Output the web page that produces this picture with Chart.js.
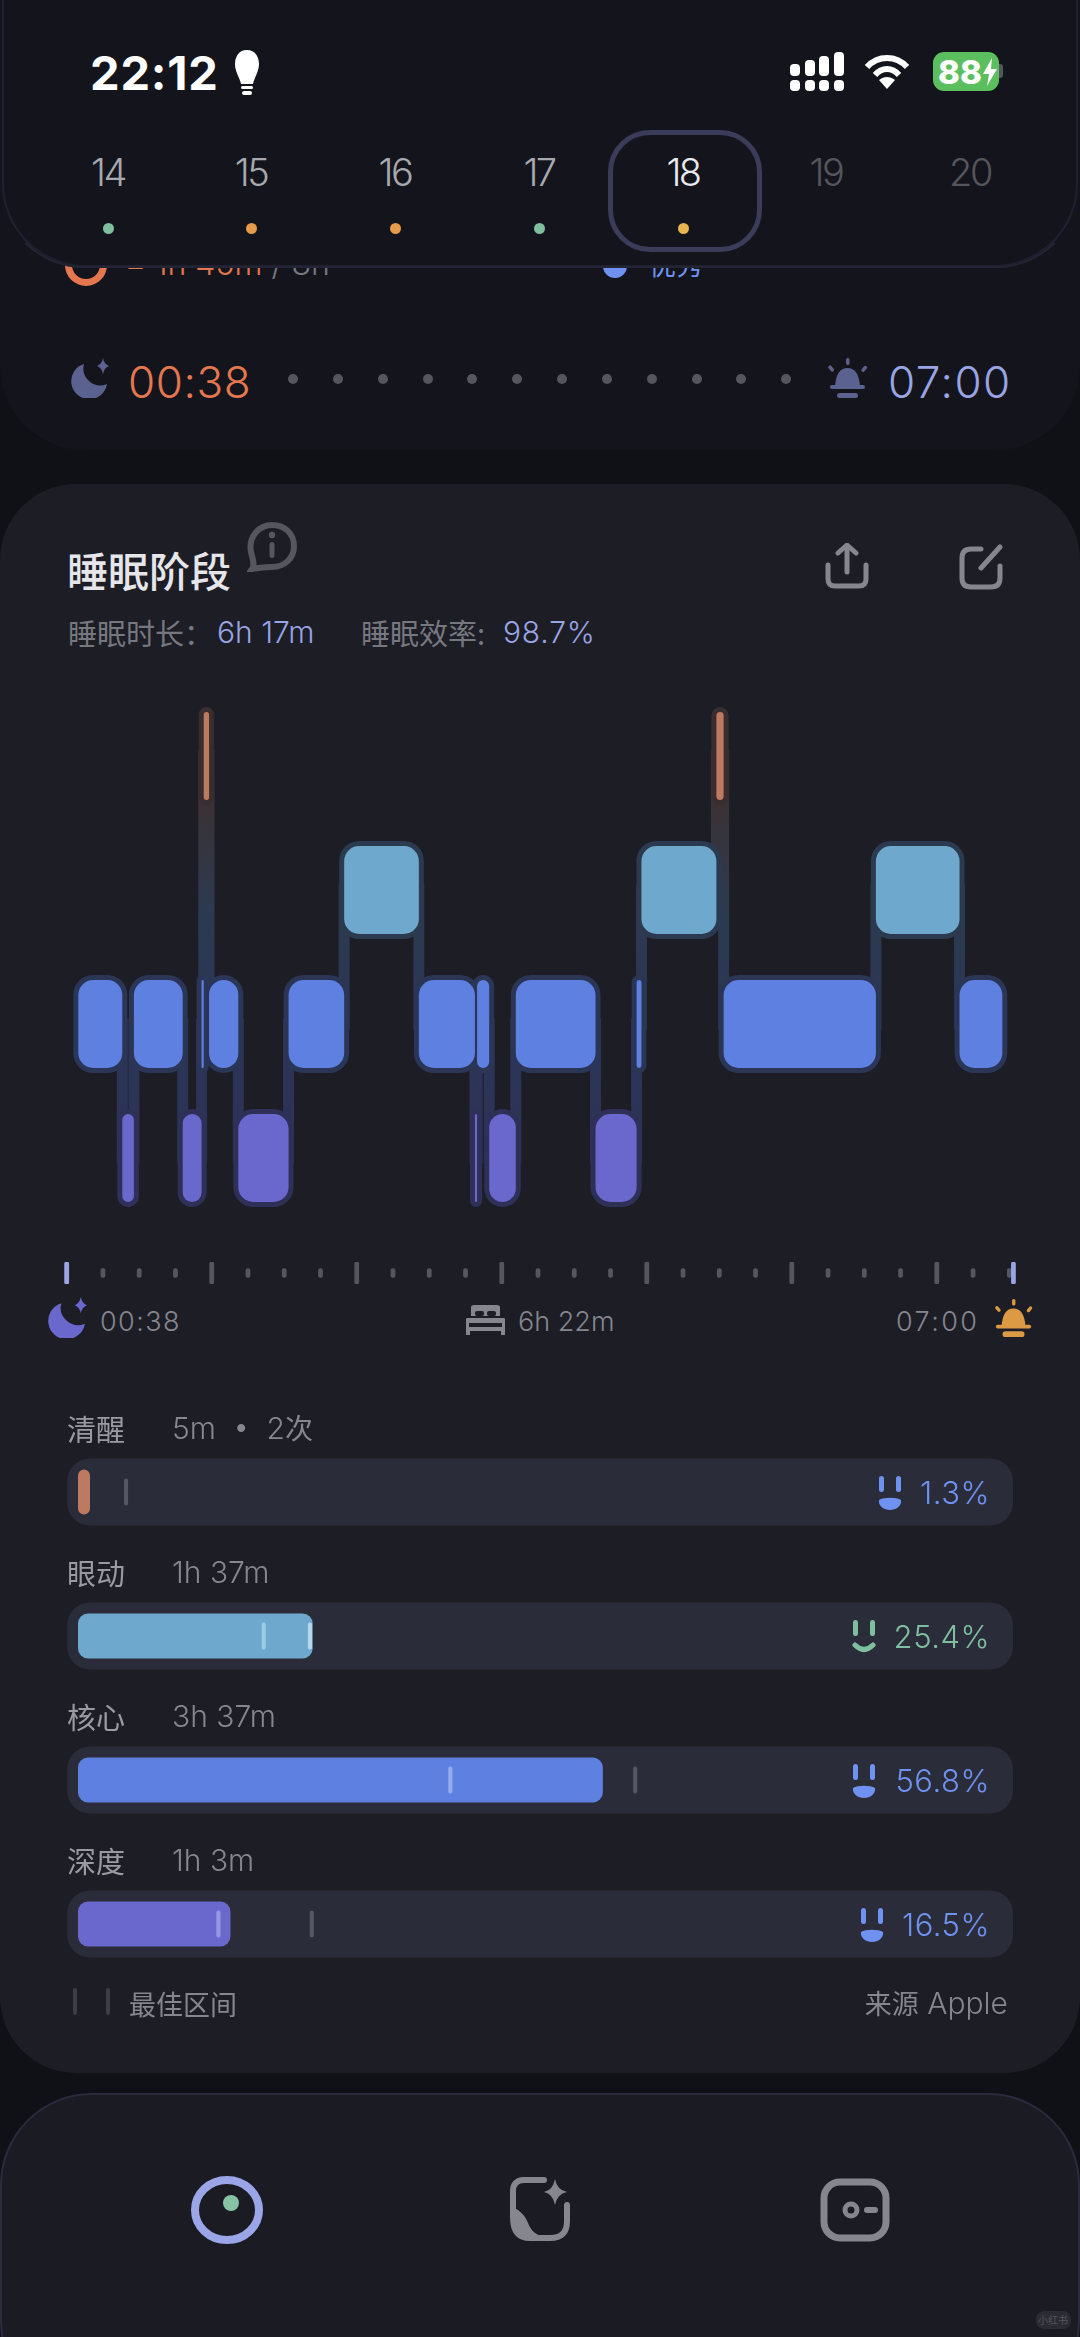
<!DOCTYPE html>
<html lang="zh">
<head>
<meta charset="utf-8">
<script src="https://cdn.jsdelivr.net/npm/chart.js@4/dist/chart.umd.min.js"></script>
<style>
html, body { margin: 0; padding: 0; background: #101116; }
#page { position: relative; width: 1080px; height: 2337px; overflow: hidden; background: #101116;
  font-family: Inter, "Noto Sans CJK SC", sans-serif; font-weight: 300; }
#page > * { position: absolute; }
.t { white-space: nowrap; transform: translateY(-50%); line-height: 1; }
.r { transform: translate(-100%, -50%); }
.c { transform: translate(-50%, -50%); }
.cjk { font-family: "Noto Sans CJK SC", sans-serif; font-weight: 400; }
.card { box-sizing: border-box; }
canvas { display: block; }
</style>
</head>
<body>
<div id="page">

  <!-- card behind the date strip -->
  <div class="card" style="left:0;top:-60px;width:1080px;height:510px;background:#14151c;border-radius:0 0 84px 84px"></div>
  <svg style="left:65px;top:240px" width="44" height="48" viewBox="0 0 44 48"><circle cx="21" cy="25" r="17.500" fill="none" stroke="#e4774e" stroke-width="7"/></svg>
  <div class="t" style="left:125px;top:264px;font-size:32px;color:#e4774e"><span style="position:relative;top:5px">−</span> 1h 45m <span style="color:#77787f">/ 8h</span></div>
  <svg style="left:603px;top:250px" width="24" height="30" viewBox="0 0 24 30"><circle cx="12" cy="16" r="12" fill="#6f92f0"/></svg>
  <div class="t cjk" style="left:649px;top:263px;font-size:27px;color:#6f92f0">优秀</div>

  <svg style="left:71px;top:358px" width="40" height="40" viewBox="0 0 40 40"><path d="M15 6A18 18 0 1 0 38 26A17 17 0 0 1 15 6Z" fill="#5c628f" transform="translate(-2 0)"/><path d="M32 0Q33 6 38 8Q33 10 32 16Q31 10 26 8Q31 6 32 0Z" fill="#5c628f"/></svg>
  <div class="t" style="left:128px;top:382px;font-size:44px;letter-spacing:0.6px;color:#e4774e">00:38</div>
  <svg id="night-dots" style="left:285px;top:370px" width="510" height="18"></svg>
  <svg style="left:826px;top:358px" width="43" height="40" viewBox="0 0 43 40"><g fill="#5c628f"><path d="M21.500 10C14 10 10 16 9 28H34C33 16 29 10 21.500 10Z"/><rect x="4" y="27" width="35" height="4" rx="2"/><rect x="11" y="35" width="21" height="5" rx="2.500"/><rect x="20" y="0" width="3.500" height="7" rx="1.700"/><rect x="3" y="7" width="3.500" height="7" rx="1.700" transform="rotate(-40 5 10)"/><rect x="37" y="7" width="3.500" height="7" rx="1.700" transform="rotate(40 38 10)"/></g></svg>
  <div class="t" style="left:888px;top:382px;font-size:44px;letter-spacing:1.5px;color:#98a4e4">07:00</div>

  <!-- date strip -->
  <div class="card" style="left:0;top:-60px;width:1080px;height:328px;background:#14151c;border:2px solid #24253400;border-bottom:2px solid #242534;border-radius:0 0 84px 84px;box-shadow:inset -2px -1px 0 #1f2030, inset 2px -1px 0 #1f2030"></div>
  <div class="t" style="left:90px;top:72px;font-size:47px;font-weight:700;letter-spacing:0.8px;color:#fff">22:12</div>
  <svg style="left:233px;top:50px" width="28" height="46" viewBox="0 0 28 46"><path d="M14 0C23 0 26 8 26 14C26 22 21 28 20 34H8C7 28 2 22 2 14C2 8 5 0 14 0Z" fill="#fff"/><rect x="8" y="36" width="12" height="3" rx="1.500" fill="#fff"/><rect x="9" y="41" width="10" height="4" rx="2" fill="#fff"/></svg>
  <svg style="left:790px;top:52px" width="54" height="40" viewBox="0 0 54 40" fill="#fff"><rect x="0" y="12" width="10" height="12" rx="4"/><rect x="15" y="8" width="10" height="16" rx="4"/><rect x="29" y="4" width="10" height="20" rx="4"/><rect x="44" y="0" width="10" height="24" rx="4"/><rect x="0" y="28" width="10" height="11" rx="4"/><rect x="15" y="28" width="10" height="11" rx="4"/><rect x="29" y="28" width="10" height="11" rx="4"/><rect x="44" y="28" width="10" height="11" rx="4"/></svg>
  <svg style="left:864px;top:54px" width="46" height="36" viewBox="0 0 46 36" fill="none" stroke="#fff" stroke-width="6"><path d="M3 13C14 1 32 1 43 13"/><path d="M11 21C18 13 28 13 35 21"/><path d="M23 35L15 26C20 22 26 22 31 26Z" fill="#fff" stroke="none"/></svg>
  <div style="left:933px;top:52px;width:66px;height:39px;background:#5cbf5f;border-radius:11px"></div>
  <div style="left:999px;top:64px;width:4px;height:14px;background:#55565c;border-radius:0 3px 3px 0"></div>
  <div class="t" style="left:938px;top:72px;font-size:33px;font-weight:800;color:#fff">88</div>
  <svg style="left:983px;top:58px" width="14" height="28" viewBox="0 0 14 28"><path d="M9 0L0 16H6L4 28L14 11H8Z" fill="#fff"/></svg>
  <div id="date-strip"></div>
  <div class="card" style="left:608px;top:130px;width:154px;height:122px;border:5px solid #3a3c5a;border-radius:42px"></div>

  <!-- sleep stages card -->
  <div class="card" style="left:0;top:484px;width:1080px;height:1589px;background:#1c1d25;border-radius:76px"></div>
  <div class="t cjk" style="left:67px;top:569px;font-size:41px;font-weight:500;color:#e6e6ea">睡眠阶段</div>
  <svg style="left:247px;top:522px" width="50" height="50" viewBox="0 0 50 50"><path d="M25 3C37 3 47 11 47 24C47 37 37 45 25 45C20 45 14 45 5 47C8 43 6 38 4 30C1 15 12 3 25 3Z" fill="none" stroke="#55565e" stroke-width="6"/><rect x="22.500" y="20" width="5" height="16" rx="2.500" fill="#55565e"/><circle cx="25" cy="13" r="3.200" fill="#55565e"/></svg>
  <svg style="left:825px;top:543px" width="44" height="46" viewBox="0 0 44 46" fill="none" stroke="#85868e" stroke-width="5" stroke-linecap="round" stroke-linejoin="round"><path d="M13 10L22 2L31 10"/><path d="M22 3V29"/><path d="M3 22V36C3 41 6 43 10 43H34C38 43 41 41 41 36V22"/></svg>
  <svg style="left:959px;top:544px" width="44" height="46" viewBox="0 0 44 46" fill="none" stroke="#85868e" stroke-width="5" stroke-linecap="round" stroke-linejoin="round"><path d="M22 5H12C6 5 3 8 3 14V34C3 40 6 43 12 43H32C38 43 41 40 41 34V22"/><path d="M22 24L41 3"/></svg>
  <div class="t cjk" style="left:68px;top:632px;font-size:29px;color:#77787f">睡眠时长：</div>
  <div class="t" style="left:217px;top:632px;font-size:30px;color:#98a4e4">6h 17m</div>
  <div class="t cjk" style="left:361px;top:632px;font-size:29px;color:#77787f">睡眠效率:</div>
  <div class="t" style="left:503px;top:632px;font-size:30px;letter-spacing:0.8px;color:#98a4e4">98.7%</div>

  <canvas id="stage-chart" style="left:0;top:689px" width="1080" height="536"></canvas>
  <canvas id="ruler-chart" style="left:0;top:1262px" width="1080" height="22"></canvas>

  <svg style="left:48px;top:1297px" width="41" height="41" viewBox="0 0 40 40"><path d="M15 6A18 18 0 1 0 38 26A17 17 0 0 1 15 6Z" fill="#6a68cc" transform="translate(-2 0)"/><path d="M32 0Q33 6 38 8Q33 10 32 16Q31 10 26 8Q31 6 32 0Z" fill="#6a68cc"/></svg>
  <div class="t" style="left:100px;top:1321px;font-size:27px;letter-spacing:1.4px;color:#85868e">00:38</div>
  <svg style="left:466px;top:1305px" width="39" height="30" viewBox="0 0 39 30" fill="#85868e"><path d="M5 2C5 1 6 0 8 0H31C33 0 34 1 34 2V11H5Z"/><path d="M1 13H38C39 13 39 14 39 15V30H35V26H4V30H0V15C0 14 0 13 1 13ZM3 18V22H36V18Z" fill-rule="evenodd"/><rect x="9" y="6" width="9" height="5" rx="2" fill="#1c1d25"/><rect x="21" y="6" width="9" height="5" rx="2" fill="#1c1d25"/></svg>
  <div class="t" style="left:518px;top:1321px;font-size:27px;color:#85868e">6h 22m</div>
  <div class="t" style="left:896px;top:1321px;font-size:27px;letter-spacing:2.4px;color:#85868e">07:00</div>
  <svg style="left:993px;top:1298px" width="41" height="40" viewBox="0 0 43 40"><g fill="#dd9a45"><path d="M21.500 10C14 10 10 16 9 28H34C33 16 29 10 21.500 10Z"/><rect x="3" y="27" width="37" height="4" rx="2"/><rect x="10" y="34" width="23" height="6" rx="3"/><rect x="20" y="0" width="3.500" height="7" rx="1.700"/><rect x="3" y="7" width="3.500" height="7" rx="1.700" transform="rotate(-40 5 10)"/><rect x="37" y="7" width="3.500" height="7" rx="1.700" transform="rotate(40 38 10)"/></g></svg>

  <canvas id="share-chart" style="left:0;top:1420px" width="1080" height="576"></canvas>
  <div id="share-text"></div>

  <div style="left:73px;top:1988px;width:4px;height:27px;background:#3c3d46;border-radius:2px"></div>
  <div style="left:106px;top:1988px;width:4px;height:27px;background:#3c3d46;border-radius:2px"></div>
  <div class="t cjk" style="left:129px;top:2003px;font-size:27px;color:#85868e">最佳区间</div>
  <div class="t r" style="left:1008px;top:2003px;color:#85868e;font-size:30px"><span class="cjk" style="font-size:27px">来源</span> Apple</div>

  <!-- bottom navigation -->
  <div class="card" style="left:0;top:2093px;width:1080px;height:320px;background:#1a1b23;border:2px solid #2a2b3d;border-radius:92px"></div>
  <svg style="left:189px;top:2174px" width="76" height="72" viewBox="0 0 76 72"><ellipse cx="38" cy="36" rx="32" ry="30" fill="none" stroke="#9aa6e8" stroke-width="8"/><circle cx="42" cy="29" r="8" fill="#86c3a5"/></svg>
  <svg style="left:510px;top:2177px" width="62" height="64" viewBox="0 0 62 64" fill="none" stroke="#85868e" stroke-width="6" stroke-linecap="round"><path d="M34 3H14C6 3 3 8 3 14V40C3 54 8 61 20 61H40C51 61 57 56 57 44V28"/><path d="M3 30C10 34 15 38 18 46C21 54 26 58 36 61H20C8 61 3 54 3 40Z" fill="#85868e" stroke="none"/><path d="M45 2Q47 13 57 15Q47 17 45 28Q43 17 34 15Q43 13 45 2Z" fill="#85868e" stroke="none"/></svg>
  <svg style="left:820px;top:2178px" width="70" height="64" viewBox="0 0 70 64" fill="none" stroke="#85868e" stroke-width="7"><rect x="4" y="4" width="62" height="56" rx="16"/><circle cx="31" cy="32" r="6" stroke-width="5"/><rect x="44" y="29" width="14" height="6" rx="3" fill="#85868e" stroke="none"/></svg>
  <div style="left:1036px;top:2311px;width:35px;height:18px;background:#2a2b33;border-radius:8px"></div>
  <div class="t c cjk" style="left:1053px;top:2320px;font-size:10px;color:#55565e">小红书</div>
</div>

<script>
'use strict';

// date strip
const dates = ['14', '15', '16', '17', '18', '19', '20'];
const dateColors = ['#a8a9ae', '#a8a9ae', '#a8a9ae', '#a8a9ae', '#e8e8ee', '#55565c', '#55565c'];
const dateDots = ['#7fbf9f', '#e59a4c', '#e59a4c', '#7fbf9f', '#e6b54e', null, null];
const dateCenters = [108, 251, 395, 539, 683, 826, 970];

// hypnogram: stage of each segment and the minute it ends, counted from 00:38
const stageNames = ['清醒', '眼动', '核心', '深度'];
const segmentStages = ['核心', '深度', '核心', '深度', '核心', '清醒', '核心', '深度', '核心', '眼动', '核心',
    '深度', '核心', '深度', '核心', '深度', '核心', '眼动', '清醒', '核心', '眼动', '核心'];
const segmentEnds = [18.2, 23, 43.2, 51, 51.9, 54.1, 66.2, 87, 110, 140.9, 164.1,
    165, 170, 181, 214, 231, 233, 264, 267, 330, 364.6, 382.3];

// time ruler, minutes from 00:38
const rulerHours = [-4.8, 55.2, 115.2, 175.2, 235.2, 295.2, 355.2];
const rulerQuarters = [10.2, 25.2, 40.2, 70.2, 85.2, 100.2, 130.2, 145.2, 160.2, 190.2, 205.2, 220.2,
    250.2, 265.2, 280.2, 310.2, 325.2, 340.2, 370.2, 385.2];
const rulerEnds = [-4.8, 386.9];

// share of each stage, percent
const sharePercents = [1.3, 25.4, 56.8, 16.5];
const shareLabels = ['5m  •  2次', '1h 37m', '3h 37m', '1h 3m'];
const shareColors = ['#6f92f0', '#7fbf9f', '#6f92f0', '#6f92f0'];
const faceLefts = [878, 852, 852, 860];
const bestStages = ['清醒', '眼动', '眼动', '核心', '核心', '深度', '深度'];
const bestValues = [5.2, 20.1, 25.1, 40.3, 60.3, 15.2, 25.3];
const bestColors = ['#555763', '#9ccbe4', '#b8d8ea', '#93aef0', '#555763', '#9a98e6', '#555763'];

const stageFill = { '清醒': '#bc7a60', '眼动': '#6ea9cd', '核心': '#5e80e0', '深度': '#6a68cc' };
const stageHalo = { '清醒': '#3a2d30', '眼动': '#2c3a50', '核心': '#2b3556', '深度': '#2f3058' };

const PX_PER_MIN = 2.417;
const AXIS_LEFT = 78.3;
const HALO_MIN = 5 / PX_PER_MIN;
const timeMin = -AXIS_LEFT / PX_PER_MIN;
const timeMax = (1080 - AXIS_LEFT) / PX_PER_MIN;

Chart.defaults.animation = false;
Chart.defaults.responsive = false;
Chart.defaults.plugins.legend.display = false;
Chart.defaults.plugins.tooltip.enabled = false;

function segmentData(pad) {
    return segmentStages.map(function (stage, i) {
        const start = i === 0 ? 0 : segmentEnds[i - 1];
        return { x: [start - pad, segmentEnds[i] + pad], y: stage };
    });
}

function connectorPoints() {
    const points = [];
    segmentStages.forEach(function (stage, i) {
        points.push({ x: i === 0 ? 0 : segmentEnds[i - 1], y: stage });
        points.push({ x: segmentEnds[i], y: stage });
    });
    return points;
}

function connectorColor(context) {
    const chart = context.chart;
    if (!chart.chartArea) return '#2b3556';
    const g = chart.ctx.createLinearGradient(0, chart.chartArea.top, 0, chart.chartArea.bottom);
    g.addColorStop(0, '#3c2e31');
    g.addColorStop(0.22, '#3a3236');
    g.addColorStop(0.42, '#2c3a50');
    g.addColorStop(0.65, '#2b3556');
    g.addColorStop(1, '#2f3058');
    return g;
}

new Chart(document.getElementById('stage-chart'), {
    type: 'bar',
    data: {
        labels: stageNames,
        datasets: [{
            type: 'line',
            indexAxis: 'x',
            data: connectorPoints(),
            borderColor: connectorColor,
            borderWidth: 11,
            borderCapStyle: 'butt',
            borderJoinStyle: 'miter',
            pointRadius: 0,
            tension: 0,
            order: 3
        }, {
            data: segmentData(HALO_MIN),
            backgroundColor: segmentStages.map(function (s) { return stageHalo[s]; }),
            grouped: false,
            categoryPercentage: 1,
            barPercentage: 98 / 134,
            borderRadius: 20,
            borderSkipped: false,
            order: 2
        }, {
            data: segmentData(0),
            backgroundColor: segmentStages.map(function (s) { return stageFill[s]; }),
            grouped: false,
            categoryPercentage: 1,
            barPercentage: 88 / 134,
            borderRadius: 15,
            borderSkipped: false,
            order: 1
        }]
    },
    options: {
        indexAxis: 'y',
        layout: { padding: 0 },
        scales: {
            x: { type: 'linear', min: timeMin, max: timeMax, display: false },
            y: { type: 'category', labels: stageNames, offset: true, display: false }
        }
    }
});

function rulerDataset(minutes, range, color, order) {
    return {
        data: minutes.map(function (m) { return { x: m, y: range }; }),
        backgroundColor: color,
        grouped: false,
        categoryPercentage: 1,
        barPercentage: 1,
        maxBarThickness: 5,
        borderRadius: 2.5,
        borderSkipped: false,
        order: order
    };
}

new Chart(document.getElementById('ruler-chart'), {
    type: 'bar',
    data: {
        datasets: [
            rulerDataset(rulerHours, [0, 1], '#55565e', 3),
            rulerDataset(rulerQuarters, [0.3, 0.7], '#55565e', 2),
            rulerDataset(rulerEnds, [0, 1], '#98a4e4', 1)
        ]
    },
    options: {
        layout: { padding: 0 },
        scales: {
            x: { type: 'linear', min: timeMin, max: timeMax, offset: false, display: false },
            y: { type: 'linear', min: 0, max: 1, display: false }
        }
    }
});

// share bars: 9.24px per percent, zero at x=78
const shareMin = -78 / 9.24;
const shareMax = (1080 - 78) / 9.24;

new Chart(document.getElementById('share-chart'), {
    type: 'bar',
    data: {
        labels: stageNames,
        datasets: [{
            data: stageNames.map(function (s) { return { x: [-1.19, 101.2], y: s }; }),
            backgroundColor: '#2a2c3a',
            grouped: false,
            categoryPercentage: 1,
            barPercentage: 67 / 144,
            borderRadius: 23,
            borderSkipped: false,
            order: 3
        }, {
            data: stageNames.map(function (s, i) { return { x: [0, sharePercents[i]], y: s }; }),
            backgroundColor: stageNames.map(function (s) { return stageFill[s]; }),
            grouped: false,
            categoryPercentage: 1,
            barPercentage: 45 / 144,
            borderRadius: 10,
            borderSkipped: false,
            order: 2
        }, {
            data: bestValues.map(function (v, i) { return { x: [v - 0.22, v + 0.22], y: bestStages[i] }; }),
            backgroundColor: bestColors,
            grouped: false,
            categoryPercentage: 1,
            barPercentage: 27 / 144,
            borderRadius: 2,
            borderSkipped: false,
            order: 1
        }]
    },
    options: {
        indexAxis: 'y',
        layout: { padding: 0 },
        scales: {
            x: { type: 'linear', min: shareMin, max: shareMax, display: false },
            y: { type: 'category', labels: stageNames, offset: true, display: false }
        }
    }
});

// text and small glyphs around the charts
const page = document.getElementById('page');

function addHtml(html) {
    page.insertAdjacentHTML('beforeend', html);
}

dates.forEach(function (d, i) {
    addHtml('<div class="t c" style="left:' + dateCenters[i] + 'px;top:172px;font-size:38px;letter-spacing:-2.5px;color:' + dateColors[i] + '">' + d + '</div>');
    if (dateDots[i]) {
        addHtml('<div style="left:' + (dateCenters[i] - 5.5) + 'px;top:222.5px;width:11px;height:11px;border-radius:50%;background:' + dateDots[i] + '"></div>');
    }
});

let dots = '';
[293, 338, 383, 428, 472, 517, 562, 607, 652, 697, 741, 786].forEach(function (x) {
    dots += '<circle cx="' + (x - 285) + '" cy="9" r="5" fill="#55565e"/>';
});
document.getElementById('night-dots').innerHTML = dots;

stageNames.forEach(function (s, i) {
    const labelY = 1428 + i * 144;
    const barY = 1492 + i * 144;
    addHtml('<div class="t cjk" style="left:67px;top:' + labelY + 'px;font-size:29px;color:#9a9ba2">' + s + '</div>');
    addHtml('<div class="t" style="left:172px;top:' + labelY + 'px;font-size:30px;white-space:pre;color:#85868e">' + shareLabels[i].replace('次', '<span class="cjk" style="font-size:28px">次</span>') + '</div>');
    addHtml('<div class="t r" style="left:990px;top:' + barY + 'px;font-size:31px;letter-spacing:0.5px;color:' + shareColors[i] + '">' + sharePercents[i] + '%</div>');
    const c = shareColors[i];
    const mouth = c === '#7fbf9f'
        ? '<path d="M3 25Q12 34 21 25" fill="none" stroke="' + c + '" stroke-width="5" stroke-linecap="round"/>'
        : '<path d="M1 24C5 21 19 21 23 24C24 30 18 34 12 34C6 34 0 30 1 24Z" fill="' + c + '"/>';
    addHtml('<svg style="left:' + faceLefts[i] + 'px;top:' + (barY - 16) + 'px" width="24" height="34" viewBox="0 0 24 34">' +
        '<rect x="1" y="0" width="5" height="16" rx="2.5" fill="' + c + '"/><rect x="18" y="0" width="5" height="16" rx="2.5" fill="' + c + '"/>' + mouth + '</svg>');
});
</script>
</body>
</html>
